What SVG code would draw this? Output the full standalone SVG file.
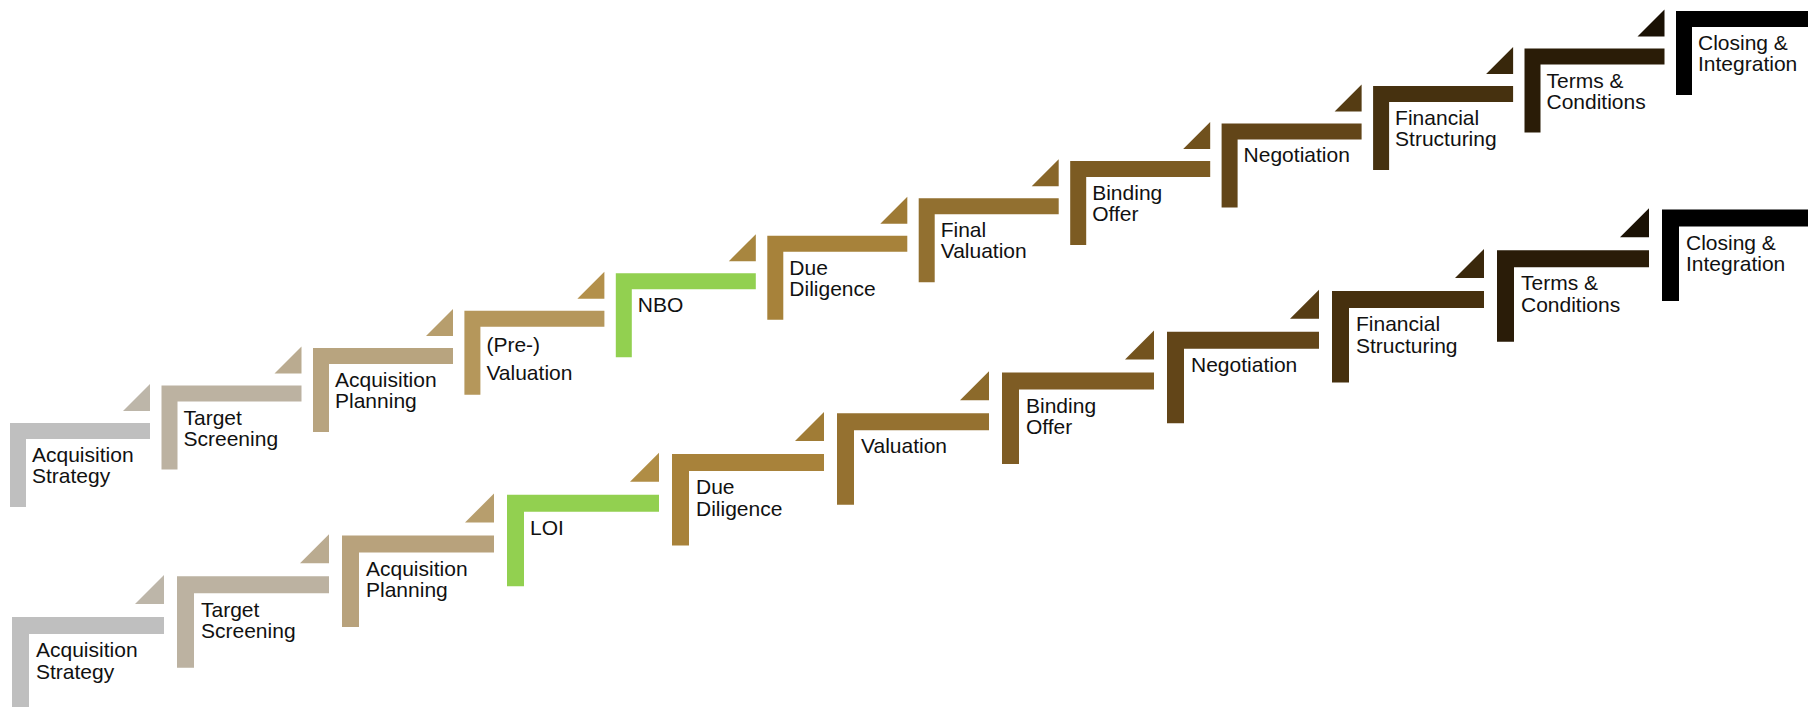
<svg xmlns="http://www.w3.org/2000/svg" width="1808" height="707" viewBox="0 0 1808 707">
<style>
text{font-family:"Liberation Sans",Arial,sans-serif;font-size:21px;fill:#111}
</style>
<defs>
<path id="Lt" d="M0,0H140V16H16V84H0Z"/>
<path id="Lb" d="M0,0H152V17H17V91.5H0Z"/>
<path id="Tt" d="M140,-39V-12H113Z"/>
<path id="Tb" d="M152,-42V-13H123Z"/>
</defs>
<rect width="1808" height="707" fill="#fff"/>
<g id="connectors">
<g id="top-triangles">
<use href="#Tt" transform="translate(10,423)" fill="#BDB6A9"/>
<use href="#Tt" transform="translate(161.5,385.5)" fill="#BAAB90"/>
<use href="#Tt" transform="translate(313,348)" fill="#B79E6D"/>
<use href="#Tt" transform="translate(464.4,310.7)" fill="#B3904B"/>
<use href="#Tt" transform="translate(615.8,273.2)" fill="#A8863F"/>
<use href="#Tt" transform="translate(767.3,235.8)" fill="#9E7A35"/>
<use href="#Tt" transform="translate(918.7,198.3)" fill="#886629"/>
<use href="#Tt" transform="translate(1070.2,160.9)" fill="#70511D"/>
<use href="#Tt" transform="translate(1221.6,123.4)" fill="#553C13"/>
<use href="#Tt" transform="translate(1373.1,86)" fill="#38270B"/>
<use href="#Tt" transform="translate(1524.5,48.5)" fill="#1A1104"/>
</g>
<g id="bottom-triangles">
<use href="#Tb" transform="translate(12,617)" fill="#BDB6A9"/>
<use href="#Tb" transform="translate(177,576.25)" fill="#BAAB90"/>
<use href="#Tb" transform="translate(342,535.5)" fill="#B79E6D"/>
<use href="#Tb" transform="translate(507,494.75)" fill="#B08D45"/>
<use href="#Tb" transform="translate(672,454)" fill="#A07C36"/>
<use href="#Tb" transform="translate(837,413.25)" fill="#8C6A2B"/>
<use href="#Tb" transform="translate(1002,372.5)" fill="#73531E"/>
<use href="#Tb" transform="translate(1167,331.75)" fill="#573D14"/>
<use href="#Tb" transform="translate(1332,291)" fill="#3A280C"/>
<use href="#Tb" transform="translate(1497,250.25)" fill="#1A1104"/>
</g>
</g>
<g id="top-row">
<g id="t-acquisition-strategy" transform="translate(10,423)"><use href="#Lt" fill="#BFBFBF"/><text x="22" y="39">Acquisition</text><text x="22" y="60">Strategy</text></g>
<g id="t-target-screening" transform="translate(161.5,385.5)"><use href="#Lt" fill="#BCB2A1"/><text x="22" y="39">Target</text><text x="22" y="60">Screening</text></g>
<g id="t-acquisition-planning" transform="translate(313,348)"><use href="#Lt" fill="#B8A47F"/><text x="22" y="39">Acquisition</text><text x="22" y="60">Planning</text></g>
<g id="t-pre-valuation" transform="translate(464.4,310.7)"><use href="#Lt" fill="#B5975B"/><text x="22" y="41.5">(Pre-)</text><text x="22" y="69.5">Valuation</text></g>
<g id="t-nbo" transform="translate(615.8,273.2)"><use href="#Lt" fill="#92D050"/><text x="22" y="39">NBO</text></g>
<g id="t-due-diligence" transform="translate(767.3,235.8)"><use href="#Lt" fill="#A7823A"/><text x="22" y="39">Due</text><text x="22" y="60">Diligence</text></g>
<g id="t-final-valuation" transform="translate(918.7,198.3)"><use href="#Lt" fill="#927030"/><text x="22" y="39">Final</text><text x="22" y="60">Valuation</text></g>
<g id="t-binding-offer" transform="translate(1070.2,160.9)"><use href="#Lt" fill="#7C5B22"/><text x="22" y="39">Binding</text><text x="22" y="60">Offer</text></g>
<g id="t-negotiation" transform="translate(1221.6,123.4)"><use href="#Lt" fill="#624518"/><text x="22" y="39">Negotiation</text></g>
<g id="t-financial-structuring" transform="translate(1373.1,86)"><use href="#Lt" fill="#46310F"/><text x="22" y="39">Financial</text><text x="22" y="60">Structuring</text></g>
<g id="t-terms-conditions" transform="translate(1524.5,48.5)"><use href="#Lt" fill="#2A1C07"/><text x="22" y="39">Terms &amp;</text><text x="22" y="60">Conditions</text></g>
<g id="t-closing-integration" transform="translate(1676,11)"><use href="#Lt" fill="#000"/><text x="22" y="39">Closing &amp;</text><text x="22" y="60">Integration</text></g>
</g>
<g id="bottom-row">
<g id="b-acquisition-strategy" transform="translate(12,617)"><use href="#Lb" fill="#BFBFBF"/><text x="24" y="40">Acquisition</text><text x="24" y="62">Strategy</text></g>
<g id="b-target-screening" transform="translate(177,576.25)"><use href="#Lb" fill="#BCB2A1"/><text x="24" y="41">Target</text><text x="24" y="62">Screening</text></g>
<g id="b-acquisition-planning" transform="translate(342,535.5)"><use href="#Lb" fill="#B8A27C"/><text x="24" y="40">Acquisition</text><text x="24" y="61.5">Planning</text></g>
<g id="b-loi" transform="translate(507,494.75)"><use href="#Lb" fill="#92D050"/><text x="23" y="40">LOI</text></g>
<g id="b-due-diligence" transform="translate(672,454)"><use href="#Lb" fill="#A8823A"/><text x="24" y="40">Due</text><text x="24" y="61.5">Diligence</text></g>
<g id="b-valuation" transform="translate(837,413.25)"><use href="#Lb" fill="#957130"/><text x="24" y="40">Valuation</text></g>
<g id="b-binding-offer" transform="translate(1002,372.5)"><use href="#Lb" fill="#7E5C24"/><text x="24" y="40">Binding</text><text x="24" y="61.5">Offer</text></g>
<g id="b-negotiation" transform="translate(1167,331.75)"><use href="#Lb" fill="#624518"/><text x="24" y="40">Negotiation</text></g>
<g id="b-financial-structuring" transform="translate(1332,291)"><use href="#Lb" fill="#46300E"/><text x="24" y="40">Financial</text><text x="24" y="61.5">Structuring</text></g>
<g id="b-terms-conditions" transform="translate(1497,250.25)"><use href="#Lb" fill="#2A1C08"/><text x="24" y="40">Terms &amp;</text><text x="24" y="61.5">Conditions</text></g>
<g id="b-closing-integration" transform="translate(1662,209.5)"><use href="#Lb" fill="#000"/><text x="24" y="40">Closing &amp;</text><text x="24" y="61.5">Integration</text></g>
</g>
</svg>
